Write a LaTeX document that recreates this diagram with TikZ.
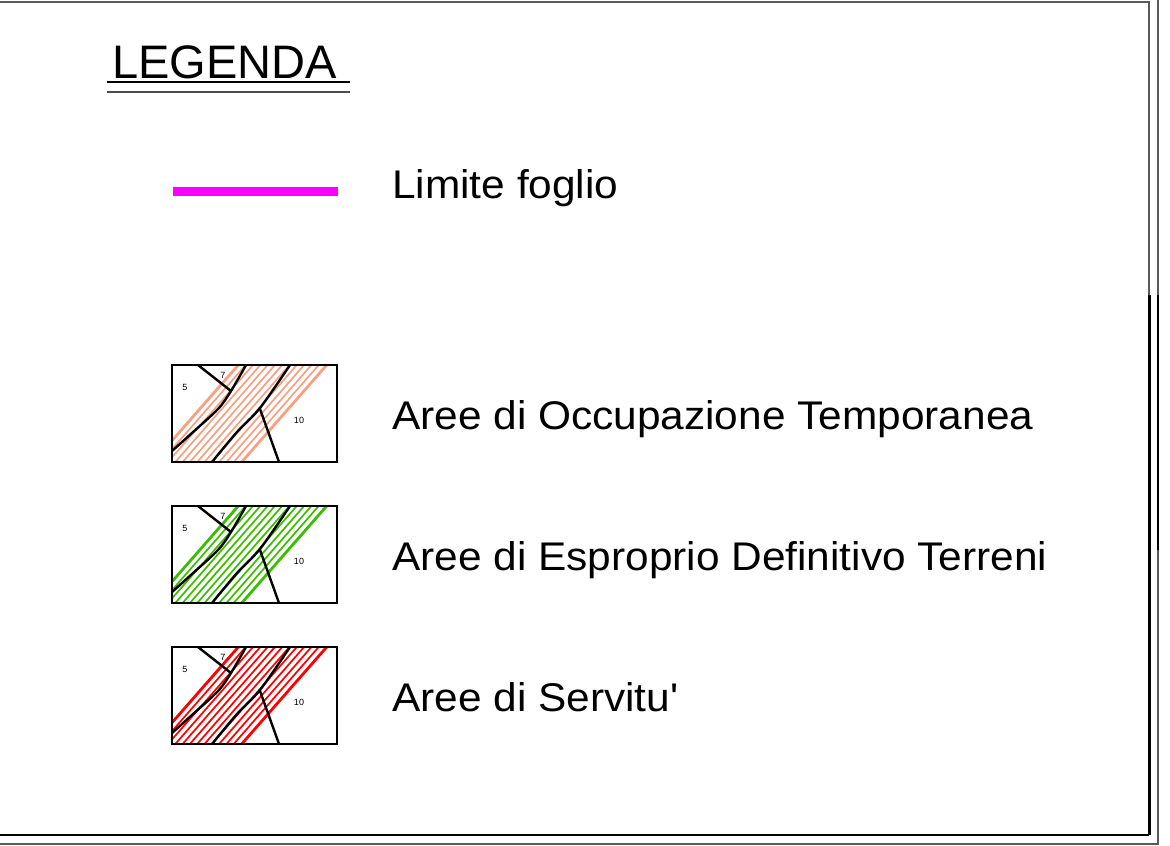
\documentclass[tikz,border=0pt]{standalone}
\usepackage{fontspec}
\newfontfamily\legfont[FakeStretch=1.06]{Liberation Sans}
\newfontfamily\titfont{Liberation Sans}
\definecolor{occup}{RGB}{248,160,128}
\definecolor{espro}{RGB}{60,190,0}
\definecolor{servi}{RGB}{255,0,0}
\definecolor{limite}{RGB}{255,0,255}

\begin{document}
\begin{tikzpicture}[x=1pt,y=-1pt,
    voce/.style ={anchor=base west, inner sep=0pt, font=\legfont\fontsize{40}{48}\selectfont},
    particella/.style ={inner sep=0pt, font=\titfont\fontsize{9}{10}\selectfont},
    confine/.style ={line width=2.8pt},
    catasto/.style ={line width=2.4pt},
    cornice/.style ={draw=black!65, line width=1.4pt}]
   \useasboundingbox (0,0) rectangle (1170,846);
   % cornice
   \draw[cornice] (-5,2) -- (1149,2) -- (1149,835);
   \draw[line width=1.6pt] (1149,835) -- (-5,835);
   \draw[cornice] (1158,-5) -- (1158,844) -- (-5,844);
   \draw[line width=3pt] (1149,295) -- (1149,835);
   \draw[line width=2.6pt] (1158,295) -- (1158,550);
   % titolo
   \node[voce, font=\titfont\fontsize{47}{56}\selectfont] (titolo) at (112,78) {LEGENDA};
   \draw[line width=1.3pt] (107,82) -- (350,82);
   \draw[line width=1.3pt, black!70] (107,92) -- (350,92);
   % limite foglio
   \draw[limite, line width=8.7pt] (172.7,191.7) -- (337.7,191.7);
   \node[voce] (limite) at (392,198) {Limite foglio};
   % aree
   \foreach \y/\col/\txt [count=\i] in {365/occup/Aree di Occupazione Temporanea,
       506/espro/Aree di Esproprio Definitivo Terreni, 647/servi/Aree di Servitu'} {
     \begin{scope}[shift={(172,\y)}]
       \begin{scope}
         \clip (0,0) rectangle (165,97);
         \foreach \b in {-11.3,-4,...,63}
           \draw[\col, line width=1.7pt] (\b,97) -- ++(85,-97);
         \draw[\col, confine] (-18.7,97) -- ++(85,-97);
         \draw[\col, confine] (69.7,97) -- ++(85,-97);
       \end{scope}
       \draw[catasto] (26,0) -- (59,26);
       \draw[catasto] plot[smooth] coordinates {(74,0) (59,26) (46,44) (20,68) (0,86)};
       \draw[catasto] plot[smooth] coordinates {(118,0) (88,43) (65,67) (40,97)};
       \draw[catasto] (88,44) -- (107,97);
       \draw[line width=1.6pt] (0,0) rectangle (165,97);
       \node[particella] (p5-\i) at (13,22) {5};
       \node[particella] (p7-\i) at (51,10) {7};
       \node[particella] (p10-\i) at (127,55) {10};
       \node[voce] (area-\i) at (220,64) {\txt};
     \end{scope}
   }
 \end{tikzpicture}
\end{document}
